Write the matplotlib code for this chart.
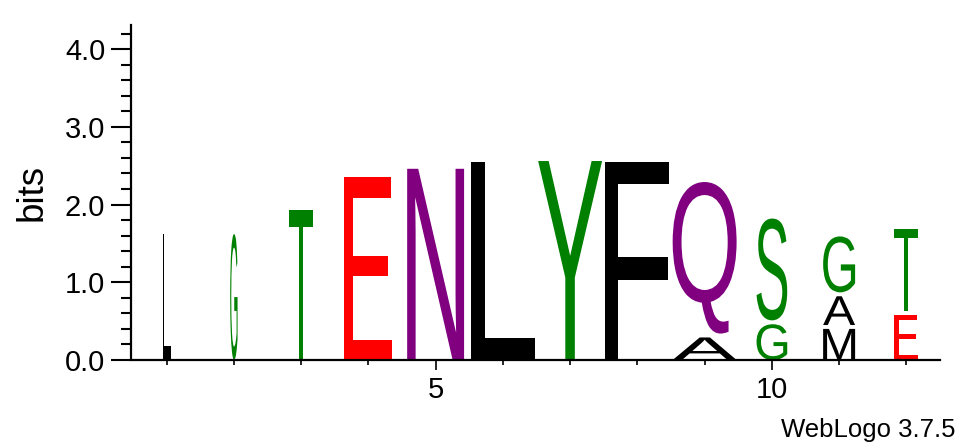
import matplotlib
matplotlib.use("Agg")
import matplotlib.pyplot as plt
from matplotlib.textpath import TextPath
from matplotlib.patches import PathPatch
from matplotlib.font_manager import FontProperties
from matplotlib.ticker import MultipleLocator, FixedLocator
import matplotlib.transforms as mtrans

# ---- data ----
positions = [1, 2, 3, 4, 5, 6, 7, 8, 9, 10, 11, 12]
# letters per column, bottom -> top
stack_letters = [["L"], ["G"], ["T"], ["E"], ["N"], ["L"], ["Y"], ["F"],
                 ["A", "Q"], ["G", "S"], ["M", "A", "G"], ["E", "T"]]
# heights in bits, bottom -> top
stack_heights = [[1.62], [1.62], [1.93], [2.35], [2.46], [2.55], [2.56], [2.55],
                 [0.29, 2.00], [0.46, 1.36], [0.40, 0.42, 0.77], [0.58, 1.10]]
# relative column widths
column_widths = [0.125, 0.115, 0.375, 0.75, 0.89, 0.99, 1.0, 1.0, 1.0, 0.48, 0.5, 0.375]
y_ticks = [0.0, 1.0, 2.0, 3.0, 4.0]
x_ticks = [5, 10]

colors = {"G": "#008000", "S": "#008000", "T": "#008000", "Y": "#008000", "C": "#008000",
          "N": "#800080", "Q": "#800080",
          "K": "#0000FF", "R": "#0000FF", "H": "#0000FF",
          "D": "#FF0000", "E": "#FF0000",
          "A": "#000000", "V": "#000000", "L": "#000000", "I": "#000000",
          "P": "#000000", "W": "#000000", "F": "#000000", "M": "#000000"}

FONT = "Liberation Sans"
fp = FontProperties(family=FONT)

W, H, DPI = 963, 444, 100
fig = plt.figure(figsize=(W / DPI, H / DPI), dpi=DPI)
ax = fig.add_axes([133 / W, 84 / H, (940 - 133) / W, (360 - 25) / H])
ax.set_xlim(0.5, 12.5)
ax.set_ylim(0, 4.31)

full_w = 0.951
gap = 0.05


def draw_letter(ch, cx, bottom, top, width, color):
    tp = TextPath((0, 0), ch, size=1, prop=fp)
    ext = tp.get_extents()
    tr = (mtrans.Affine2D()
          .translate(-ext.x0, -ext.y0)
          .scale(width / ext.width, (top - bottom) / ext.height)
          .translate(cx - width / 2, bottom))
    path = tr.transform_path(tp)
    ax.add_patch(PathPatch(path, facecolor=color, edgecolor="none", lw=0))


for pos, letters, heights, wf in zip(positions, stack_letters, stack_heights, column_widths):
    base = 0.0
    for i, (ch, h) in enumerate(zip(letters, heights)):
        b = base + (gap if i > 0 else 0.0)
        draw_letter(ch, pos, b, base + h, full_w * wf, colors[ch])
        base += h

# axes styling
for s in ["top", "right"]:
    ax.spines[s].set_visible(False)
ax.spines["left"].set_position(("outward", 1.5))
ax.spines["left"].set_linewidth(1.6)
ax.spines["bottom"].set_linewidth(1.6)

ax.yaxis.set_major_locator(FixedLocator(y_ticks))
ax.yaxis.set_minor_locator(MultipleLocator(0.2))
ax.set_yticklabels([f"{v:.1f}" for v in y_ticks])
ax.tick_params(axis="y", which="major", length=14.4, width=1.5, pad=4,
               labelsize=21, direction="out")
ax.tick_params(axis="y", which="minor", length=7.2, width=1.5, direction="out")

ax.xaxis.set_major_locator(FixedLocator(x_ticks))
ax.xaxis.set_minor_locator(FixedLocator(positions))
ax.set_xticklabels([str(v) for v in x_ticks])
ax.tick_params(axis="x", which="major", length=7.2, width=1.2, pad=4,
               labelsize=21, direction="out")
ax.tick_params(axis="x", which="minor", length=3.6, width=1.2, direction="out")

for lbl in ax.get_xticklabels() + ax.get_yticklabels():
    lbl.set_fontfamily(FONT)

fig.text(32 / W, 1 - 192.5 / H, "bits", rotation=90, ha="center", va="center",
         fontsize=26.5, family=FONT)
fig.text(955 / W, 1 - 437 / H, "WebLogo 3.7.5", ha="right", va="baseline",
         fontsize=18.5, family=FONT)

fig.savefig("out.png", dpi=DPI)
